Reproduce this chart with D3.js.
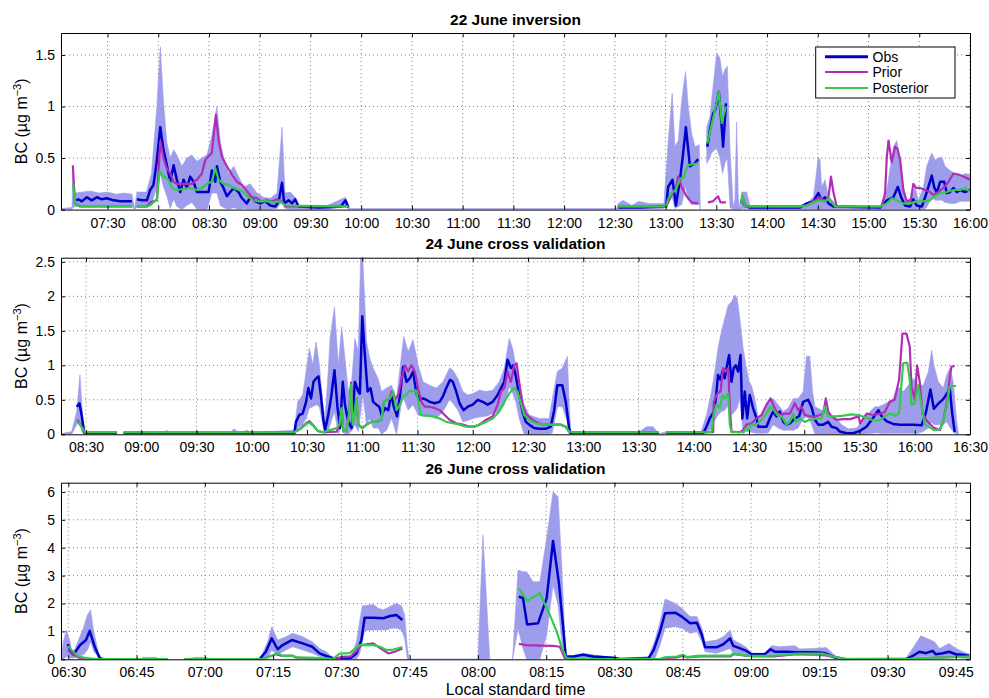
<!DOCTYPE html>
<html><head><meta charset="utf-8">
<script src="https://cdn.jsdelivr.net/npm/d3@7"></script>
<style>body{margin:0;background:#fff}svg{display:block}</style>
</head><body><svg id="c" width="989" height="698"></svg>
<script>
// ---------------- DATA ----------------
const seriesNames = ["Obs","Prior","Posterior"];
const panelTitles = ["22 June inversion","24 June cross validation","26 June cross validation"];
const xDomains = [["07:02.5","16:00"],["08:16.4","16:30"],["06:28.4","09:48.1"]];
const xTickStart = ["07:30","08:30","06:30"];
const xTickStep = [30,30,15];
const yMaxes = [1.713,2.56,6.33];
const p1YTicks = [0,0.5,1,1.5];
const p2YTicks = [0,0.5,1,1.5,2,2.5];
const p3YTicks = [0,1,2,3,4,5,6];

// band: [time, lower, upper]
const p1Band = [["07:02.5",0,0.01],["07:09",0,0.02],["07:09.5",0.02,0.35],["07:11",0.03,0.16],["07:15",0.03,0.17],["07:20",0.04,0.18],["07:25",0.04,0.16],["07:30",0.04,0.17],["07:35",0.03,0.15],["07:40",0.03,0.16],["07:44.4",0.03,0.15],["07:46",0,0.01],["07:47.4",0.02,0.17],["07:53",0.02,0.17],["07:56",0.05,0.35],["07:59.2",0.22,1.0],["08:01.2",0.35,1.58],["08:03.1",0.22,1.05],["08:05.1",0.13,0.65],["08:07.1",0.01,0.5],["08:09.1",0.10,0.58],["08:11",0.03,0.53],["08:14",0,0.42],["08:16.9",0.04,0.50],["08:19.9",0.07,0.53],["08:22.9",0,0.47],["08:25.8",0,0.50],["08:28.8",0,0.53],["08:31.7",0.16,0.72],["08:34.7",0.16,1.0],["08:36.7",0.04,0.65],["08:38.6",0.02,0.51],["08:41.6",0,0.35],["08:44.6",0.02,0.42],["08:47.5",0,0.32],["08:50.5",0.01,0.22],["08:54.4",0,0.25],["08:58.4",0,0.16],["09:02.3",0,0.12],["09:06.3",0,0.11],["09:10.2",0.01,0.16],["09:13.2",0.08,0.80],["09:15",0.01,0.16],["09:18.1",0,0.17],["09:21",0,0.12],["09:23",0,0.04],["09:40",0,0.04],["09:50.7",0.03,0.12],["09:53",0,0.01],["12:31",0,0.01],["12:32",0.01,0.06],["12:35",0.01,0.09],["12:40",0.01,0.04],["12:44",0.01,0.08],["12:50",0.01,0.06],["12:59",0.01,0.06],["13:01.6",0.06,0.67],["13:03.9",0.12,1.13],["13:05.5",0.01,0.61],["13:07.5",0.03,0.67],["13:09.5",0.05,1.06],["13:11.8",0.22,1.34],["13:13.4",0.1,1.0],["13:15.4",0.05,0.74],["13:17.4",0.05,0.61],["13:19.9",0.05,0.63],["13:20.5",0,0],["13:21",null,null],["13:24.3",0.45,0.80],["13:26.2",0.5,0.9],["13:27.2",0.55,1.06],["13:30.2",0.6,1.52],["13:32.1",0.5,1.47],["13:33.7",0.35,1.29],["13:35.1",0.45,1.36],["13:36.5",0.5,1.39],["13:38.1",0.02,0.58],["13:40",0,0.03],["13:41",0,0.1],["13:42",0,0.85],["13:43",0,0.1],["13:44",0,0.01],["13:45",0.01,0.17],["13:47.9",0.01,0.17],["13:49.9",0,0.04],["14:19.5",0,0.04],["14:23.4",0,0.06],["14:27.4",0,0.12],["14:30.3",0,0.51],["14:31.3",0,0.48],["14:32.3",0,0.22],["14:34.3",0,0.29],["14:36.3",0,0.12],["14:39.2",0,0.08],["14:41",0,0.03],["15:06.8",0,0.03],["15:10.8",0,0.19],["15:14.7",0,0.61],["15:16.7",0,0.67],["15:18.7",0,0.48],["15:20.6",0,0.22],["15:22.6",0,0.09],["15:25.6",0,0.12],["15:27.5",0,0.22],["15:29.5",0,0.09],["15:32.5",0,0.22],["15:34.4",0.02,0.42],["15:37.4",0.12,0.55],["15:39.4",0.09,0.48],["15:41.3",0.09,0.50],["15:43.3",0.09,0.51],["15:45.3",0.07,0.42],["15:48.2",0.06,0.38],["15:51.2",0.06,0.35],["15:54.2",0.08,0.32],["15:57.1",0.08,0.35],["16:00",0.08,0.34]];
const p1Obs = [["07:11.5",0.09],["07:12.8",0.10],["07:14.8",0.08],["07:17.8",0.12],["07:20.7",0.09],["07:23.7",0.12],["07:26.6",0.10],["07:29.6",0.11],["07:33.6",0.09],["07:37.5",0.08],["07:41.4",0.08],["07:44.4",0.08],["07:46",null],["07:47.4",0.10],["07:50.3",0.09],["07:53.3",0.09],["07:55.2",0.19],["07:57.2",0.24],["07:59.2",0.48],["08:01.2",0.80],["08:03.1",0.58],["08:05.1",0.43],["08:07.1",0.27],["08:09.1",0.43],["08:11",0.29],["08:13",0.17],["08:15",0.29],["08:16.9",0.21],["08:18.9",0.32],["08:20.9",0.27],["08:22.9",0.17],["08:26.8",0.17],["08:29.8",0.17],["08:31.7",0.38],["08:33.7",0.27],["08:34.7",0.42],["08:36.7",0.27],["08:38.6",0.21],["08:40.6",0.13],["08:42.6",0.17],["08:44.6",0.21],["08:47.5",0.17],["08:49.5",0.11],["08:52.4",0.06],["08:54.4",0.12],["08:57.4",0.08],["09:00.3",0.06],["09:03.3",0.08],["09:06.3",0.04],["09:09.2",0.03],["09:11.2",0.08],["09:13.2",0.26],["09:14.5",0.06],["09:17.1",0.09],["09:19.1",0.06],["09:21",0.10],["09:23",0.03],["09:35",0.02],["09:48",0.03],["09:50.7",0.09],["09:52.5",0.02],["09:53",null],["12:32",0.02],["12:45",0.02],["13:00.4",0.03],["13:01.5",0.22],["13:04.1",0.29],["13:06.1",0.04],["13:08.5",0.29],["13:10.2",0.52],["13:12",0.80],["13:14.4",0.42],["13:17.3",0.45],["13:19.3",0.49],["13:22",null],["13:24.6",0.61],["13:26.2",0.77],["13:28.1",0.93],["13:29.5",0.97],["13:31.5",1.14],["13:33",0.84],["13:34",0.61],["13:35.7",1.03],["13:40",null],["13:44.6",0.06],["13:45.5",0.12],["13:46.9",0.04],["13:49.9",0.02],["14:19.5",0.02],["14:23.4",0.06],["14:27.4",0.08],["14:30.3",0.16],["14:32.3",0.09],["14:34.3",0.12],["14:36.3",0.06],["14:39.2",0.03],["15:06.8",0.02],["15:10.8",0.09],["15:14.7",0.12],["15:17.3",0.22],["15:19.3",0.12],["15:21.6",0.04],["15:24.6",0.03],["15:26.5",0.10],["15:28.5",0.04],["15:31.5",0.03],["15:33.5",0.12],["15:35.4",0.22],["15:37.4",0.33],["15:38.8",0.22],["15:40.4",0.16],["15:42.3",0.27],["15:44.7",0.27],["15:46.3",0.16],["15:48.2",0.17],["15:50.2",0.21],["15:52.2",0.17],["15:54.2",0.19],["15:57.1",0.17],["16:00",0.19]];
const p1Prior = [["07:09.5",0.43],["07:10.7",0.06],["07:13.8",0.03],["07:44.4",0.03],["07:46",null],["07:47.4",0.03],["07:53.3",0.03],["07:55.2",0.07],["07:59.2",0.09],["08:01.2",0.66],["08:03.1",0.50],["08:05.1",0.40],["08:07.1",0.35],["08:09.1",0.27],["08:11",0.25],["08:14",0.25],["08:16.9",0.25],["08:19.9",0.25],["08:22.9",0.29],["08:25.8",0.35],["08:27.8",0.48],["08:29.8",0.52],["08:31.7",0.55],["08:32.7",0.71],["08:34.1",0.92],["08:35.7",0.67],["08:37.7",0.51],["08:40.6",0.42],["08:43.6",0.34],["08:46.5",0.27],["08:49.5",0.24],["08:52.4",0.18],["08:55.4",0.12],["08:58.4",0.11],["09:01.3",0.08],["09:04.3",0.09],["09:07.2",0.08],["09:10.2",0.10],["09:13.2",0.08],["09:15.1",0.03],["09:52.5",0.03],["09:53",null],["12:32",0.03],["13:00.4",0.03],["13:01.5",0.07],["13:04",0.16],["13:06",0.20],["13:07.5",0.32],["13:09.5",0.22],["13:12.4",0.13],["13:15.3",0.07],["13:19.3",0.06],["13:22",null],["13:25",0.07],["13:28",0.08],["13:31",0.13],["13:32.5",0.07],["13:35.7",0.07],["13:40",null],["13:44.6",0.06],["13:45.5",0.10],["13:46.9",0.03],["14:19.5",0.03],["14:23.4",0.04],["14:27.4",0.08],["14:31.3",0.12],["14:34.3",0.08],["14:36.3",0.12],["14:37.8",0.32],["14:39.2",0.17],["14:41.2",0.03],["15:07.8",0.03],["15:09.8",0.16],["15:10.8",0.51],["15:11.8",0.67],["15:13.7",0.46],["15:15.7",0.61],["15:17.1",0.59],["15:18.7",0.48],["15:20.6",0.19],["15:22.6",0.08],["15:25",0.09],["15:26.5",0.25],["15:28.1",0.21],["15:30.5",0.21],["15:33.5",0.19],["15:36.4",0.17],["15:38.4",0.14],["15:41.3",0.17],["15:44.3",0.21],["15:47.3",0.27],["15:50.2",0.35],["15:53.2",0.34],["15:56.1",0.32],["16:00",0.29]];
const p1Post = [["07:09.5",0.26],["07:10.9",0.05],["07:13.8",0.03],["07:44.4",0.03],["07:46",null],["07:47.4",0.03],["07:53.3",0.03],["07:55.2",0.04],["07:59.2",0.10],["08:00.8",0.37],["08:03.1",0.32],["08:06.1",0.29],["08:08.1",0.21],["08:11",0.19],["08:15",0.20],["08:18.9",0.21],["08:22.9",0.19],["08:25.8",0.21],["08:28.8",0.25],["08:31.7",0.27],["08:33.7",0.40],["08:35.7",0.29],["08:38.6",0.25],["08:41.6",0.24],["08:44.6",0.21],["08:47.5",0.19],["08:50.5",0.17],["08:53.4",0.12],["08:56.4",0.09],["08:59.4",0.08],["09:02.3",0.08],["09:05.3",0.08],["09:08.2",0.07],["09:12.2",0.08],["09:15.1",0.04],["09:52.5",0.03],["09:53",null],["12:32",0.03],["13:00.4",0.03],["13:01.5",0.10],["13:03.5",0.16],["13:06",0.19],["13:08.5",0.30],["13:10.5",0.31],["13:13.2",0.43],["13:16",0.44],["13:19.3",0.45],["13:22",null],["13:24.6",0.64],["13:28",0.88],["13:30.2",1.04],["13:31.5",1.14],["13:33.2",0.84],["13:35.7",1.0],["13:40",null],["13:44.6",0.06],["13:45.5",0.14],["13:46.9",0.04],["13:48",0.03],["14:19.5",0.03],["14:23.4",0.04],["14:27.4",0.07],["14:31.3",0.09],["14:34.3",0.08],["14:36.8",0.11],["14:40.2",0.03],["15:06.8",0.03],["15:10.8",0.06],["15:13.7",0.11],["15:16.7",0.09],["15:20.6",0.06],["15:24.6",0.06],["15:28.5",0.08],["15:32.5",0.08],["15:36.4",0.09],["15:38.4",0.12],["15:42.3",0.16],["15:46.3",0.17],["15:50.2",0.19],["15:54.2",0.19],["15:57.1",0.21],["16:00",0.17]];

const p2Band = [["08:16.4",0,0.01],["08:22.2",0,0.04],["08:24.9",0.14,0.33],["08:26.7",0.18,0.86],["08:27.6",0.05,0.47],["08:28.5",0,0.14],["08:30",0,0.02],["08:46.7",0,0.02],["08:47",null,null],["08:50.4",0,0.02],["09:12",0,0.02],["09:14",0,0.06],["09:16",0,0.02],["09:48",0,0.02],["09:50.4",0,0.08],["09:53",0,0.02],["09:57.6",0,0.06],["09:59",0,0.02],["10:23.1",0,0.06],["10:24.9",0.09,0.47],["10:27.6",0.14,0.57],["10:29.5",0.23,0.91],["10:31.3",0.38,1.25],["10:33.1",0.40,1.01],["10:34.9",0.43,1.34],["10:36.7",0.40,1.01],["10:38.5",0.14,0.47],["10:39.8",0,0.23],["10:41.5",0.04,0.91],["10:42.5",0.14,1.39],["10:44.9",0.33,1.85],["10:47",0,1.0],["10:48.8",0.14,1.56],["10:50.6",0,1.10],["10:52.4",0,0.62],["10:54.2",0.05,0.76],["10:56",0.14,1.39],["10:57.8",0.04,1.20],["10:59.1",0.30,2.55],["11:00.2",0.57,2.6],["11:01.1",0.4,2.07],["11:02.3",0.14,1.34],["11:04.1",0.23,1.10],["11:05.9",0.09,0.96],["11:08.6",0.09,0.81],["11:10.5",0,0.62],["11:13.2",0.06,0.67],["11:15.9",0.23,0.71],["11:18.6",0,0.52],["11:21.3",0.45,1.15],["11:22.5",0.52,1.42],["11:24.9",0.35,1.20],["11:27.6",0.43,1.37],["11:30.3",0.28,1.01],["11:33",0.26,0.76],["11:36.6",0.26,0.71],["11:40.2",0.23,0.67],["11:43.8",0.33,0.76],["11:47.4",0.50,0.96],["11:49.2",0.45,0.93],["11:51.9",0.35,0.81],["11:54.6",0.18,0.62],["11:57.3",0.20,0.57],["12:00",0.23,0.59],["12:03.6",0.25,0.64],["12:07.2",0.26,0.62],["12:10.8",0.30,0.64],["12:14.4",0.33,0.76],["12:17.1",0.43,0.96],["12:19.8",0.69,1.39],["12:21.6",0.60,1.25],["12:23.4",0.47,1.0],["12:25.2",0.23,0.76],["12:27.9",0,0.43],["12:30.6",0,0.28],["12:36",0,0.23],["12:41.4",0,0.23],["12:43.2",0.02,0.52],["12:45.9",0.40,0.91],["12:48.6",0.40,0.96],["12:51.4",0.18,1.13],["12:52.3",0,0.47],["12:53.2",0,0.04],["13:30.7",0,0.04],["13:34.3",0,0.11],["13:37.9",0,0.11],["13:40",0,0.04],["13:41.5",0,0.01],["13:45.1",0,0.04],["14:04",0,0.04],["14:06.9",0.01,0.28],["14:09.6",0.09,0.62],["14:11.4",0.20,0.91],["14:13.2",0.28,1.25],["14:15",0.33,1.49],["14:16.8",0.35,1.68],["14:18.7",0.42,1.87],["14:20.5",0.28,1.92],["14:22.3",0.33,2.02],["14:23.6",0.38,1.97],["14:25",0.52,1.68],["14:26.8",0.01,1.25],["14:28.6",0.04,0.96],["14:30.1",0.04,0.76],["14:31.3",0.03,0.71],["14:33.2",0.02,0.52],["14:35",0.015,0.23],["14:37.7",0.015,0.33],["14:40.4",0.02,0.47],["14:43.1",0.14,0.52],["14:45.8",0.09,0.43],["14:48.6",0.06,0.33],["14:51.3",0.06,0.38],["14:54",0.06,0.52],["14:56.7",0.09,0.52],["14:59.4",0.23,0.62],["15:01.2",0.25,1.13],["15:03",0.21,1.13],["15:04.5",0.10,0.62],["15:05.8",0,0.40],["15:09.4",0,0.35],["15:12.1",0,0.33],["15:14.8",0,0.28],["15:17.5",0,0.23],["15:20.3",0,0.14],["15:23.9",0,0.08],["15:28.4",0,0.09],["15:31.1",0,0.18],["15:35.7",0.01,0.33],["15:38.4",0.02,0.40],["15:40.2",0.02,0.40],["15:42.9",0.01,0.43],["15:45.6",0.015,0.47],["15:48.3",0.015,0.52],["15:50.1",0.015,0.67],["15:52",0.015,0.67],["15:53.8",0.015,0.62],["15:56.5",0.015,0.71],["15:59.2",0.015,0.81],["16:01.9",0.015,0.71],["16:04.6",0.04,0.71],["16:07.4",0.09,0.91],["16:09.2",0.18,1.22],["16:10.4",0.14,1.0],["16:12.8",0.14,0.76],["16:15.5",0.14,0.67],["16:17.3",0.18,0.86],["16:19.1",0.10,0.96],["16:20.9",0.04,0.76],["16:22.8",0,0.18],["16:23.7",0,0.015]];
const p2Obs = [["08:24.9",0.40],["08:26.4",0.45],["08:27.6",0.28],["08:28.9",0.04],["08:30",0.015],["08:46.7",0.015],["08:48",null],["08:50.4",0.015],["10:23.1",0.015],["10:24",0.18],["10:25.8",0.28],["10:27.6",0.30],["10:29.5",0.47],["10:30.7",0.67],["10:32.2",0.52],["10:33.5",0.76],["10:34.9",0.81],["10:36.2",0.84],["10:37.5",0.57],["10:38.8",0.23],["10:39.8",0.06],["10:41.5",0.28],["10:43",0.52],["10:44.9",0.93],["10:46.5",0.40],["10:47.9",0.09],["10:49.4",0.76],["10:50.6",0.43],["10:52.4",0.18],["10:54.2",0.09],["10:56",0.76],["10:57.8",0.62],["10:58.7",0.59],["11:00",1.71],["11:01.4",1.15],["11:02.9",0.62],["11:04.5",0.67],["11:05.9",0.47],["11:07.7",0.43],["11:09.2",0.40],["11:10.5",0.28],["11:12.3",0.38],["11:14.1",0.35],["11:15.9",0.59],["11:17.1",0.40],["11:18.9",0.26],["11:20.4",0.55],["11:22.2",0.98],["11:24",0.76],["11:25.8",0.81],["11:27.6",0.91],["11:29.4",0.59],["11:31.2",0.50],["11:33",0.52],["11:34.8",0.50],["11:36.6",0.47],["11:39.3",0.45],["11:42",0.47],["11:43.8",0.55],["11:45.6",0.67],["11:47.7",0.79],["11:49.2",0.76],["11:51",0.62],["11:52.8",0.45],["11:55",0.35],["11:57.3",0.40],["12:00",0.43],["12:02.7",0.50],["12:05.4",0.47],["12:08.1",0.43],["12:10.8",0.47],["12:13.5",0.57],["12:15.3",0.67],["12:17.1",0.76],["12:18.9",1.08],["12:20.7",0.96],["12:22",1.0],["12:23.4",0.84],["12:25.2",0.57],["12:27",0.33],["12:28.8",0.18],["12:30.6",0.14],["12:33.3",0.09],["12:36",0.08],["12:39.6",0.08],["12:42.3",0.11],["12:44.1",0.33],["12:45.9",0.71],["12:48.6",0.71],["12:50.5",0.47],["12:52.3",0.09],["12:53.2",0.015],["13:41",0.015],["13:43",null],["13:45",0.015],["14:05.1",0.015],["14:06.9",0.11],["14:08.7",0.23],["14:10.9",0.33],["14:12",0.52],["14:13.2",0.86],["14:14.5",0.79],["14:15.6",0.91],["14:16.8",0.81],["14:18.1",1.0],["14:19.2",1.15],["14:20.5",0.76],["14:21.7",0.96],["14:22.8",1.0],["14:24.1",0.91],["14:25.4",1.15],["14:26.4",0.23],["14:27.7",0.62],["14:29",0.23],["14:30.4",0.57],["14:32.2",0.38],["14:34.1",0.23],["14:35",0.11],["14:36.8",0.11],["14:39.5",0.11],["14:41.3",0.23],["14:43.1",0.33],["14:44.9",0.26],["14:46.7",0.33],["14:48.6",0.18],["14:50.4",0.14],["14:52.2",0.16],["14:54.9",0.23],["14:57.2",0.26],["14:59.4",0.47],["15:02.1",0.50],["15:03.9",0.40],["15:05.8",0.21],["15:07.6",0.14],["15:10.3",0.14],["15:13",0.18],["15:14.8",0.11],["15:17.5",0.09],["15:19.3",0.04],["15:23",0.015],["15:26.6",0.015],["15:30.2",0.05],["15:33.8",0.11],["15:37.4",0.24],["15:40.3",0.35],["15:41.8",0.27],["15:44.6",0.19],["15:48.3",0.15],["15:52",0.14],["15:55.6",0.14],["15:59.2",0.14],["16:03.7",0.13],["16:06",0.31],["16:08.5",0.65],["16:10.4",0.37],["16:12.6",0.44],["16:15.5",0.51],["16:18.2",0.62],["16:19",0.67],["16:20.3",0.31],["16:21.7",0.03]];
const p2Prior = [["08:25.3",0.21],["08:29.5",0.03],["08:46.7",0.03],["08:48",null],["08:50.4",0.03],["10:23.1",0.03],["10:26.7",0.09],["10:29.5",0.16],["10:31.3",0.19],["10:33.1",0.14],["10:35.8",0.05],["10:38.5",0.03],["10:46.1",0.04],["10:47.6",0.14],["10:48.8",0.38],["10:49.7",0.04],["10:51.5",0.06],["10:53",0.33],["10:53.9",0.75],["10:54.8",0.14],["10:56",0.33],["10:56.9",0.52],["10:57.8",0.14],["11:00",0.09],["11:02.3",0.14],["11:05",0.18],["11:07.7",0.18],["11:10.5",0.21],["11:11.7",0.47],["11:13.2",0.50],["11:15",0.52],["11:15.9",0.62],["11:17.7",0.50],["11:19.5",0.57],["11:21.3",0.79],["11:23.1",1.0],["11:24.9",0.91],["11:26.7",1.0],["11:28.5",0.91],["11:30.3",0.67],["11:32.1",0.47],["11:33.9",0.40],["11:36.6",0.40],["11:39.3",0.38],["11:42",0.35],["11:44.7",0.28],["11:47.4",0.21],["11:51",0.16],["11:54.6",0.14],["11:58.2",0.11],["12:00.9",0.11],["12:03.6",0.14],["12:07.2",0.21],["12:10.8",0.26],["12:13.5",0.43],["12:15.3",0.62],["12:17.1",0.67],["12:18.9",0.91],["12:20.7",0.76],["12:22.5",1.0],["12:23.8",1.03],["12:25.2",0.76],["12:27",0.43],["12:28.8",0.30],["12:31.5",0.23],["12:34.2",0.18],["12:37.8",0.14],["12:43.2",0.14],["12:47.7",0.14],["12:50.5",0.11],["12:52.3",0.04],["12:54.1",0.03],["13:41",0.03],["13:43",null],["13:45",0.03],["14:10.5",0.03],["14:10.9",0.47],["14:12.7",0.59],["14:14.5",0.62],["14:15.9",0.96],["14:17.4",0.91],["14:18.7",0.96],["14:19.6",0.38],["14:20.5",0.04],["14:25",0.03],["14:26.8",0.06],["14:28.6",0.14],["14:31.3",0.16],["14:34.1",0.23],["14:36.8",0.28],["14:39.5",0.43],["14:41.7",0.52],["14:43.1",0.43],["14:44.9",0.33],["14:46.7",0.28],["14:49.5",0.30],["14:52.2",0.30],["14:54.9",0.45],["14:56.7",0.35],["14:58.5",0.40],["15:00.3",0.28],["15:03",0.26],["15:05.8",0.26],["15:08.5",0.28],["15:10.3",0.30],["15:11.7",0.52],["15:13",0.33],["15:14.8",0.26],["15:17.5",0.21],["15:21.2",0.22],["15:25",0.22],["15:29.5",0.26],["15:30.3",0.16],["15:33.9",0.30],["15:37.4",0.28],["15:41",0.30],["15:43.7",0.32],["15:46.4",0.47],["15:49.1",0.50],["15:51.5",0.79],["15:53.3",1.46],["15:55.5",1.46],["15:57.3",1.27],["15:58.2",0.69],["16:00",0.50],["16:01.3",1.0],["16:02.7",0.76],["16:04.2",0.30],["16:06.4",0.20],["16:10.1",0.10],["16:13.7",0.06],["16:15.5",0.20],["16:17.3",0.44],["16:19",0.81],["16:19.9",0.98],["16:21.7",0.99]];
const p2Post = [["08:25.3",0.19],["08:29.5",0.03],["08:46.7",0.03],["08:48",null],["08:50.4",0.03],["10:23.1",0.03],["10:26.7",0.08],["10:29.5",0.15],["10:31.3",0.17],["10:33.1",0.13],["10:35.8",0.05],["10:38.5",0.03],["10:46.1",0.09],["10:47.6",0.14],["10:48.8",0.38],["10:49.7",0.04],["10:51.5",0.06],["10:53",0.33],["10:53.9",0.72],["10:54.8",0.14],["10:56",0.33],["10:56.9",0.52],["10:57.8",0.14],["11:00",0.09],["11:02.3",0.14],["11:05",0.18],["11:07.7",0.18],["11:10.5",0.21],["11:11.7",0.47],["11:13.2",0.50],["11:15",0.52],["11:16.8",0.62],["11:18.6",0.35],["11:20.4",0.43],["11:22.2",0.55],["11:24",0.57],["11:25.8",0.64],["11:27.6",0.62],["11:29",0.64],["11:30.3",0.50],["11:31.7",0.28],["11:34.8",0.27],["11:38.4",0.26],["11:42",0.23],["11:45.6",0.18],["11:49.2",0.16],["11:52.8",0.14],["11:56.4",0.11],["12:00",0.11],["12:03.6",0.14],["12:07.2",0.18],["12:10.8",0.23],["12:14.4",0.33],["12:17.1",0.47],["12:19.8",0.59],["12:22.5",0.67],["12:24.3",0.62],["12:26.1",0.45],["12:27.9",0.28],["12:30.6",0.21],["12:34.2",0.16],["12:37.8",0.14],["12:43.2",0.14],["12:47.7",0.14],["12:50.5",0.11],["12:52.3",0.04],["12:54.1",0.03],["13:41",0.03],["13:43",null],["13:45",0.03],["14:09.6",0.03],["14:10.9",0.30],["14:12.3",0.43],["14:14.1",0.38],["14:15.6",0.57],["14:16.8",0.52],["14:18.7",0.59],["14:19.6",0.14],["14:20.5",0.03],["14:26.8",0.03],["14:28.3",0.09],["14:29.5",0.06],["14:31.3",0.14],["14:34.1",0.14],["14:36.8",0.21],["14:39.5",0.30],["14:41.7",0.40],["14:43.5",0.35],["14:45.3",0.28],["14:47.6",0.26],["14:50.4",0.14],["14:52.2",0.18],["14:54",0.30],["14:55.4",0.18],["14:57.6",0.23],["15:00.3",0.18],["15:03",0.21],["15:06.7",0.23],["15:09.4",0.23],["15:11.2",0.40],["15:13",0.26],["15:16.6",0.26],["15:21.2",0.27],["15:25.7",0.29],["15:29.3",0.28],["15:33.9",0.24],["15:37.5",0.20],["15:41",0.20],["15:43.7",0.26],["15:46.4",0.30],["15:49.1",0.27],["15:51.5",0.30],["15:53.7",1.03],["15:55.9",1.04],["15:57.3",0.79],["15:58.2",0.43],["16:00",0.45],["16:01.8",0.71],["16:03.6",0.43],["16:05.4",0.14],["16:08",0.10],["16:10.8",0.06],["16:13.7",0.07],["16:15.5",0.20],["16:17.3",0.40],["16:19",0.69],["16:19.9",0.70],["16:22.4",0.70]];

const p3Band = [["06:28.4",0,0.04],["06:28.9",0,0.63],["06:29.6",0.10,1.05],["06:30.4",0.06,0.63],["06:30.9",0.04,0.16],["06:31.8",0.08,0.51],["06:33.3",0.16,1.11],["06:34.2",0.33,1.59],["06:34.9",0.63,1.77],["06:35.6",0.27,0.99],["06:36.6",0.10,0.27],["06:37.3",0,0.04],["06:46",0,0.02],["06:46.4",0,0.07],["06:49.3",0,0.07],["06:49.8",0,0.02],["06:51.9",0,0.01],["06:52",null,null],["06:55.5",0,0.01],["06:58.1",0,0.07],["07:00.3",0,0.07],["07:01",0,0.01],["07:12",0,0.02],["07:12.7",0.02,0.22],["07:13.8",0.06,0.63],["07:14.7",0.33,1.17],["07:16",0.16,0.69],["07:17.8",0.33,0.81],["07:19.3",0.45,0.93],["07:21.5",0.33,0.81],["07:23.6",0.22,0.63],["07:25.2",0.10,0.39],["07:26.7",0.04,0.27],["07:28.2",0,0.04],["07:30.7",0,0.12],["07:32.2",0,0.14],["07:33.3",0,0.63],["07:34",0.20,1.35],["07:34.6",0.63,1.92],["07:35.1",1.03,1.92],["07:37",1.05,1.97],["07:38.1",1.05,1.83],["07:39.2",1.05,1.77],["07:39.9",1.05,1.83],["07:41",1.11,1.92],["07:42.1",1.11,2.01],["07:43.2",1.05,1.92],["07:43.9",0.75,1.59],["07:44.5",0,0.4],["07:44.9",0,0.01],["07:59.7",0,0.01],["08:00",0,0.01],["08:01.1",0,4.46],["08:02.6",0,0.01],["08:03",null,null],["08:07.6",0,0.01],["08:08.8",1.1,3.2],["08:09.9",0.39,3.14],["08:10.7",0,3.14],["08:12.1",0,2.78],["08:13.6",0,2.78],["08:15.1",0.87,4.34],["08:16.5",2.66,6.01],["08:17.6",1.95,5.83],["08:18.4",0.63,3.38],["08:19.3",0,0.1],["08:20.9",0,0.12],["08:23.1",0,0.22],["08:25.3",0,0.16],["08:29.7",0,0.06],["08:31.2",0,0.01],["08:37.5",0,0.10],["08:38.9",0.04,0.69],["08:40",0.51,1.35],["08:41.1",1.11,2.16],["08:43.3",1.17,2.01],["08:44.8",1.11,1.83],["08:46.6",0.93,1.53],["08:48.1",0.99,1.53],["08:49.2",0.63,1.11],["08:49.9",0.27,0.63],["08:52.4",0.22,0.69],["08:53.9",0.30,0.81],["08:55.4",0.39,1.05],["08:56.1",0.22,0.69],["08:57.6",0.18,0.57],["08:59",0.12,0.42],["09:00.1",0.10,0.22],["09:03",0.10,0.22],["09:04.5",0.16,0.49],["09:06.3",0.16,0.45],["09:09.6",0.16,0.49],["09:10.7",0.16,0.37],["09:13.6",0.14,0.39],["09:16.5",0.10,0.42],["09:18.7",0.01,0.10],["09:20.9",0,0.04],["09:34.1",0,0.06],["09:35.5",0.01,0.39],["09:37.3",0.10,0.84],["09:40.3",0.08,0.63],["09:41.4",0.06,0.39],["09:43.5",0.06,0.57],["09:45",0.06,0.39],["09:46.5",0.04,0.27],["09:48.1",0.01,0.18]];
const p3Obs = [["06:29.9",0.54],["06:30.4",0.33],["06:31.1",0.16],["06:32.6",0.51],["06:33.9",0.69],["06:34.7",1.02],["06:35.8",0.45],["06:36.9",0.04],["06:37.7",0],["06:51.9",0],["06:52",null],["06:55.5",0],["07:12",0],["07:13.4",0.27],["07:14.7",0.75],["07:16",0.36],["07:17.1",0.51],["07:19.1",0.69],["07:21.5",0.57],["07:23.6",0.45],["07:25.2",0.21],["07:26.7",0.12],["07:28.2",0.04],["07:29.6",0.03],["07:31.8",0.02],["07:33.3",0.21],["07:34.4",0.69],["07:35.1",1.49],["07:37",1.49],["07:39.2",1.47],["07:40.7",1.55],["07:42.1",1.59],["07:43.4",1.41],["07:44",null],["08:09",2.25],["08:09.9",2.19],["08:10.8",1.25],["08:13.2",1.29],["08:15.1",2.19],["08:16.5",4.24],["08:17.8",2.72],["08:18.6",1.35],["08:19.3",0.10],["08:20.9",0.10],["08:23.1",0.16],["08:25.3",0.10],["08:29.7",0.06],["08:31.2",0.01],["08:37.5",0.04],["08:38.6",0.33],["08:40",0.99],["08:41.1",1.65],["08:43.3",1.67],["08:44.8",1.53],["08:46.6",1.29],["08:48.1",1.31],["08:49.2",0.87],["08:49.9",0.43],["08:52.4",0.43],["08:53.9",0.54],["08:55.4",0.75],["08:56.1",0.48],["08:57.6",0.39],["08:59",0.30],["09:00.1",0.18],["09:03",0.18],["09:04.3",0.36],["09:05.2",0.27],["09:07.8",0.27],["09:10",0.25],["09:12.2",0.25],["09:15.1",0.24],["09:16.2",0.22],["09:17.6",0.12],["09:19.5",0.01],["09:22.4",0],["09:32.6",0],["09:34.1",0.01],["09:35.5",0.12],["09:37",0.27],["09:38.4",0.22],["09:39.9",0.30],["09:40.6",0.18],["09:42.1",0.22],["09:43.5",0.27],["09:45",0.18],["09:46.5",0.16],["09:47.9",0.13]];
const p3Prior = [["06:29.9",0.33],["06:31.1",0.16],["06:32.6",0.04],["06:34",0.01],["06:51.9",0.01],["06:52",null],["06:55.5",0.01],["07:12.7",0.01],["07:14.2",0.10],["07:15.6",0.18],["07:17.1",0.12],["07:19.3",0.12],["07:20",0.06],["07:22.2",0.04],["07:24.4",0.01],["07:28.2",0.01],["07:29.3",0.05],["07:30.5",0.09],["07:32",0.10],["07:33.3",0.30],["07:34.4",0.51],["07:37",0.57],["07:38.5",0.40],["07:40.3",0.21],["07:41.7",0.27],["07:43.4",0.39],["07:44",null],["08:09",0.55],["08:10.7",0.51],["08:13.6",0.49],["08:16.5",0.48],["08:18",0.45],["08:19.1",0.04],["08:20.9",0.01],["08:40",0.01],["08:41.1",0.04],["08:43.7",0.07],["08:45",0.13],["08:45.9",0.07],["08:48.8",0.10],["08:55.4",0.10],["08:56.1",0.18],["08:57.6",0.16],["09:00.5",0.10],["09:04.9",0.10],["09:10",0.18],["09:15.1",0.18],["09:18",0.10],["09:20.9",0.01],["09:34.1",0.01],["09:41.4",0.06],["09:47.9",0.10]];
const p3Post = [["06:29.9",0.48],["06:31.1",0.27],["06:32.2",0.10],["06:34",0.04],["06:36.2",0.01],["06:51.9",0.01],["06:52",null],["06:55.5",0.01],["07:12.7",0.01],["07:14.2",0.10],["07:16",0.22],["07:17.1",0.12],["07:19.3",0.13],["07:20.4",0.06],["07:22.9",0.06],["07:25.1",0.04],["07:28.2",0.02],["07:29.6",0.20],["07:31.8",0.22],["07:34",0.51],["07:37",0.51],["07:38.5",0.45],["07:39.9",0.33],["07:41.4",0.35],["07:43.4",0.44],["07:44",null],["08:09",2.54],["08:10.8",2.09],["08:13.6",2.37],["08:15.8",1.59],["08:17.3",0.99],["08:18.6",0.33],["08:19.5",0.04],["08:20.9",0.01],["08:40",0.01],["08:41.1",0.07],["08:43.7",0.10],["08:45",0.16],["08:45.9",0.08],["08:48.1",0.12],["08:51.7",0.13],["08:55.4",0.13],["08:56.1",0.20],["08:57.6",0.16],["08:59.7",0.12],["09:04.9",0.13],["09:10",0.20],["09:15.8",0.20],["09:17.6",0.12],["09:19.5",0.04],["09:20.9",0.01],["09:34.1",0.01],["09:41.4",0.06],["09:47.9",0.10]];

// ---------------- RENDER ----------------
const FONT = '"Liberation Sans", Arial, Helvetica, sans-serif';
const C_BAND = "#9d9deb", C_OBS = "#0000cc", C_PRIOR = "#b22db5", C_POST = "#33c94a";
const svg = d3.select("#c");
svg.append("rect").attr("width",989).attr("height",698).attr("fill","#fff");
const X0 = 61, X1 = 970, PH = 176.6;
const tops = [33, 257.7, 482.7];
const T = s => { const p = s.split(":"); return (+p[0])*60 + parseFloat(p[1]); };
const fmt = m => { const h = Math.floor(m/60), mm = Math.round(m - h*60); return String(h).padStart(2,"0")+":"+String(mm).padStart(2,"0"); };

const panels = [
  {band:p1Band, obs:p1Obs, prior:p1Prior, post:p1Post, yt:p1YTicks},
  {band:p2Band, obs:p2Obs, prior:p2Prior, post:p2Post, yt:p2YTicks},
  {band:p3Band, obs:p3Obs, prior:p3Prior, post:p3Post, yt:p3YTicks}
];

panels.forEach((P, i) => {
  const w = X1 - X0, h = PH, top = tops[i];
  const g = svg.append("g").attr("transform", `translate(${X0},${top})`);
  const x = d3.scaleLinear().domain(xDomains[i].map(T)).range([0, w]);
  const y = d3.scaleLinear().domain([0, yMaxes[i]]).range([h, 0]);
  const xt = d3.range(T(xTickStart[i]), T(xDomains[i][1]) + 0.01, xTickStep[i]);

  // grid
  g.append("g").selectAll("line").data(xt).join("line")
    .attr("x1", d => x(d)).attr("x2", d => x(d)).attr("y1", 0).attr("y2", h)
    .attr("stroke", "#808080").attr("stroke-width", 1).attr("stroke-dasharray", "1,3");
  g.append("g").selectAll("line").data(P.yt.filter(v => v > 0)).join("line")
    .attr("x1", 0).attr("x2", w).attr("y1", d => y(d)).attr("y2", d => y(d))
    .attr("stroke", "#808080").attr("stroke-width", 1).attr("stroke-dasharray", "1,3");

  // clip
  const cid = "clip" + i;
  svg.append("clipPath").attr("id", cid).append("rect").attr("x",0).attr("y",0).attr("width", w).attr("height", h);
  const pg = g.append("g").attr("clip-path", `url(#${cid})`);

  pg.append("path").datum(P.band)
    .attr("d", d3.area().defined(d => d[1] != null)
      .x(d => x(T(d[0]))).y0(d => y(d[1])).y1(d => y(d[2])))
    .attr("fill", C_BAND).attr("stroke", C_BAND).attr("stroke-width", 0.6);

  const line = d3.line().defined(d => d[1] != null).x(d => x(T(d[0]))).y(d => y(d[1]));
  [[P.obs, C_OBS, 2.5], [P.prior, C_PRIOR, 2.2], [P.post, C_POST, 2.2]].forEach(([data, col, sw]) => {
    pg.append("path").datum(data).attr("d", line).attr("fill", "none")
      .attr("stroke", col).attr("stroke-width", sw).attr("stroke-linejoin", "round");
  });

  // axes
  const style = sel => sel.attr("font-family", FONT).attr("font-size", 14).attr("color", "#000");
  g.append("g").attr("transform", `translate(0,${h})`)
    .call(d3.axisBottom(x).tickValues(xt).tickFormat(fmt).tickSizeInner(-4).tickSizeOuter(0).tickPadding(8)).call(style);
  g.append("g")
    .call(d3.axisTop(x).tickValues(xt).tickFormat("").tickSizeInner(-4).tickSizeOuter(0)).call(style);
  g.append("g")
    .call(d3.axisLeft(y).tickValues(P.yt).tickFormat(d => String(d)).tickSizeInner(-4).tickSizeOuter(0).tickPadding(6)).call(style);
  g.append("g").attr("transform", `translate(${w},0)`)
    .call(d3.axisRight(y).tickValues(P.yt).tickFormat("").tickSizeInner(-4).tickSizeOuter(0)).call(style);
  g.selectAll(".domain").attr("stroke", "#000").attr("stroke-width", 1);

  // title
  svg.append("text").attr("x", (X0 + X1) / 2).attr("y", top - 8.3)
    .attr("text-anchor", "middle").attr("font-family", FONT).attr("font-size", 15.5)
    .attr("font-weight", "bold").attr("fill", "#000").text(panelTitles[i]);

  // y label
  const yl = svg.append("text").attr("transform", `translate(27,${top + h / 2}) rotate(-90)`)
    .attr("text-anchor", "middle").attr("font-family", FONT).attr("font-size", 16).attr("fill", "#000");
  yl.append("tspan").text("BC (\u00b5g m");
  yl.append("tspan").attr("font-size", 11).attr("dy", -6).text("\u22123");
  yl.append("tspan").attr("dy", 6).text(")");

  // legend
  if (i === 0) {
    const lg = svg.append("g");
    lg.append("rect").attr("x", 815.7).attr("y", 47).attr("width", 139.3).attr("height", 51)
      .attr("fill", "#fff").attr("stroke", "#000").attr("stroke-width", 1);
    const cols = [C_OBS, C_PRIOR, C_POST], lws = [3, 2.2, 2.2], ys = [56.7, 72, 88];
    seriesNames.forEach((n, k) => {
      lg.append("line").attr("x1", 825).attr("x2", 868).attr("y1", ys[k]).attr("y2", ys[k])
        .attr("stroke", cols[k]).attr("stroke-width", lws[k]);
      lg.append("text").attr("x", 872.5).attr("y", ys[k]).attr("dy", "0.36em")
        .attr("font-family", FONT).attr("font-size", 14).attr("fill", "#000").text(n);
    });
  }
});

svg.append("text").attr("x", (X0 + X1) / 2).attr("y", 695)
  .attr("text-anchor", "middle").attr("font-family", FONT).attr("font-size", 16)
  .attr("fill", "#000").text("Local standard time");
</script></body></html>
